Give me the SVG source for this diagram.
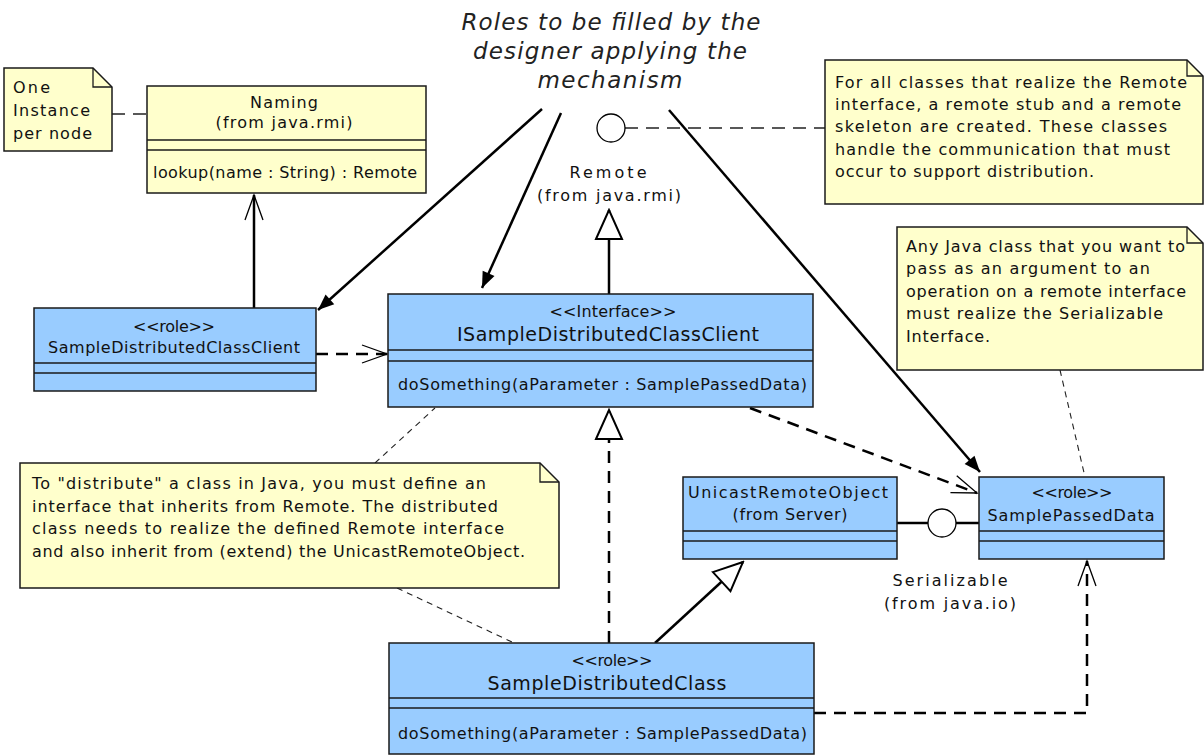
<svg xmlns="http://www.w3.org/2000/svg" width="1204" height="756" viewBox="0 0 1204 756">
  <style>
    .cls { fill: #99ccff; stroke: #1a1a1a; stroke-width: 1.5; }
    .sep { stroke: #1a1a1a; stroke-width: 1.5; }
    .note { fill: #ffffcc; stroke: #1a1a1a; stroke-width: 1.5; }
    .fold { fill: none; stroke: #1a1a1a; stroke-width: 1.3; }
    .t { font-family: "DejaVu Sans", "Liberation Sans", sans-serif; font-size: 16px; fill: #111; }
    .big { font-size: 19px; }
    .mid { text-anchor: middle; }
    .title { font-family: "DejaVu Sans", "Liberation Sans", sans-serif; font-size: 23px; font-style: italic; fill: #222; text-anchor: middle; }
    .solid { fill: none; stroke: #000; stroke-width: 2.5; }
    .dep { fill: none; stroke: #000; stroke-width: 2.5; stroke-dasharray: 12 8; }
    .link { fill: none; stroke: #222; stroke-width: 1.1; stroke-dasharray: 6 5; }
    .link2 { fill: none; stroke: #222; stroke-width: 1.3; stroke-dasharray: 13 8; }
  </style>
  <defs>
    <marker id="open" markerUnits="userSpaceOnUse" viewBox="-30 -15 32 30" markerWidth="32" markerHeight="30" refX="0" refY="0" orient="auto">
      <path d="M-25,-9 L0,0 L-25,9" fill="none" stroke="#000" stroke-width="1.3" stroke-dasharray="none"/>
    </marker>
    <marker id="filled" markerUnits="userSpaceOnUse" viewBox="-20 -10 22 20" markerWidth="22" markerHeight="20" refX="0" refY="0" orient="auto">
      <path d="M-16,-6.5 L0,0 L-16,6.5 Z" fill="#000" stroke="none"/>
    </marker>
    <marker id="tri" markerUnits="userSpaceOnUse" viewBox="-34 -16 36 32" markerWidth="36" markerHeight="32" refX="0" refY="0" orient="auto">
      <path d="M-29,-13 L0,0 L-29,13 Z" fill="#fff" stroke="#000" stroke-width="2" stroke-dasharray="none"/>
    </marker>
  </defs>

  <!-- connectors -->
  <g id="connectors">
    <!-- note links -->
    <line class="link2" x1="112" y1="114" x2="147" y2="114"/>
    <line class="link2" x1="625" y1="128" x2="825" y2="128"/>
    <line class="link" x1="375" y1="463" x2="435" y2="408"/>
    <line class="link" x1="397" y1="588" x2="514" y2="643"/>
    <line class="link" x1="1060" y1="370" x2="1085" y2="477"/>
    <!-- role pointers from the heading -->
    <line class="solid" x1="542" y1="109" x2="318" y2="310" marker-end="url(#filled)"/>
    <line class="solid" x1="561" y1="113" x2="482" y2="288" marker-end="url(#filled)"/>
    <line class="solid" x1="669" y1="110" x2="980" y2="472" marker-end="url(#filled)"/>
    <!-- association client -> Naming -->
    <line class="solid" x1="254" y1="308" x2="254" y2="195" marker-end="url(#open)"/>
    <!-- dependency client -> interface -->
    <line class="dep" x1="316" y1="354" x2="387" y2="354" marker-end="url(#open)"/>
    <!-- interface realizes Remote -->
    <circle cx="611" cy="128" r="14" fill="#fff" stroke="#000" stroke-width="1.3"/>
    <line class="solid" x1="609" y1="294" x2="609" y2="210" marker-end="url(#tri)"/>
    <!-- class realizes interface -->
    <line class="dep" x1="609" y1="643" x2="609" y2="410" marker-end="url(#tri)"/>
    <!-- class extends UnicastRemoteObject -->
    <line class="solid" x1="655" y1="643" x2="743" y2="562" marker-end="url(#tri)"/>
    <!-- interface depends on SamplePassedData -->
    <line class="dep" x1="750" y1="408" x2="977" y2="493" marker-end="url(#open)"/>
    <!-- class depends on SamplePassedData -->
    <path class="dep" d="M814,713 H1087 V561" marker-end="url(#open)"/>
    <!-- Serializable lollipop -->
    <line class="solid" x1="897" y1="523" x2="928" y2="523"/>
    <circle cx="942" cy="523" r="14" fill="#fff" stroke="#000" stroke-width="1.3"/>
    <line class="solid" x1="956" y1="523" x2="979" y2="523"/>
  </g>

  <!-- heading -->
  <g id="heading">
    <text class="title" x="611" y="30" textLength="299">Roles to be filled by the</text>
    <text class="title" x="610" y="59" textLength="274">designer applying the</text>
    <text class="title" x="610" y="88" textLength="145">mechanism</text>
  </g>

  <g id="remote-label">
    <text class="t mid" x="608" y="178" textLength="77">Remote</text>
    <text class="t mid" x="609" y="201" textLength="144">(from java.rmi)</text>
  </g>

  <g id="serializable-label">
    <text class="t mid" x="950" y="586" textLength="115">Serializable</text>
    <text class="t mid" x="950" y="609" textLength="132">(from java.io)</text>
  </g>

  <!-- note: one instance per node -->
  <g id="note-instance">
    <path class="note" d="M4,68 H93 L112,87 V151 H4 Z"/>
    <path class="fold" d="M93,68 V87 H112"/>
    <text class="t" x="13" y="93" textLength="37">One</text>
    <text class="t" x="13" y="116" textLength="77">Instance</text>
    <text class="t" x="13" y="139" textLength="79">per node</text>
  </g>

  <!-- Naming -->
  <g id="naming">
    <rect x="147" y="86" width="279" height="107" fill="#ffffcc" stroke="#1a1a1a" stroke-width="1.5"/>
    <line class="sep" x1="147" y1="140" x2="426" y2="140"/>
    <line class="sep" x1="147" y1="150" x2="426" y2="150"/>
    <text class="t mid" x="284" y="108" textLength="68">Naming</text>
    <text class="t mid" x="284" y="128" textLength="137">(from java.rmi)</text>
    <text class="t" x="153" y="178" textLength="264">lookup(name : String) : Remote</text>
  </g>

  <!-- note: stubs and skeletons -->
  <g id="note-stub">
    <path class="note" d="M825,60 H1187 L1203,76 V204 H825 Z"/>
    <path class="fold" d="M1187,60 V76 H1203"/>
    <text class="t" x="835" y="88" textLength="352">For all classes that realize the Remote</text>
    <text class="t" x="835" y="110" textLength="346">interface, a remote stub and a remote</text>
    <text class="t" x="835" y="132" textLength="332">skeleton are created. These classes</text>
    <text class="t" x="835" y="155" textLength="335">handle the communication that must</text>
    <text class="t" x="835" y="177" textLength="259">occur to support distribution.</text>
  </g>

  <!-- note: serializable arguments -->
  <g id="note-serializable">
    <path class="note" d="M897,227 H1187 L1203,243 V370 H897 Z"/>
    <path class="fold" d="M1187,227 V243 H1203"/>
    <text class="t" x="906" y="252" textLength="279">Any Java class that you want to</text>
    <text class="t" x="906" y="274" textLength="244">pass as an argument to an</text>
    <text class="t" x="906" y="297" textLength="280">operation on a remote interface</text>
    <text class="t" x="906" y="319" textLength="257">must realize the Serializable</text>
    <text class="t" x="906" y="342" textLength="84">Interface.</text>
  </g>

  <!-- SampleDistributedClassClient -->
  <g id="client">
    <rect class="cls" x="34" y="308" width="282" height="83"/>
    <line class="sep" x1="34" y1="363" x2="316" y2="363"/>
    <line class="sep" x1="34" y1="373" x2="316" y2="373"/>
    <text class="t mid" x="174" y="332" textLength="82">&lt;&lt;role&gt;&gt;</text>
    <text class="t" x="48" y="353" textLength="252">SampleDistributedClassClient</text>
  </g>

  <!-- ISampleDistributedClassClient -->
  <g id="interface">
    <rect class="cls" x="388" y="294" width="425" height="113"/>
    <line class="sep" x1="388" y1="350" x2="813" y2="350"/>
    <line class="sep" x1="388" y1="361" x2="813" y2="361"/>
    <text class="t mid" x="613" y="317" textLength="127">&lt;&lt;Interface&gt;&gt;</text>
    <text class="t big" x="457" y="341" textLength="302">ISampleDistributedClassClient</text>
    <text class="t" x="398" y="390" textLength="409">doSomething(aParameter : SamplePassedData)</text>
  </g>

  <!-- note: distributing a class -->
  <g id="note-distribute">
    <path class="note" d="M20,463 H540 L559,482 V588 H20 Z"/>
    <path class="fold" d="M540,463 V482 H559"/>
    <text class="t" x="32" y="489" textLength="454">To "distribute" a class in Java, you must define an</text>
    <text class="t" x="32" y="512" textLength="466">interface that inherits from Remote. The distributed</text>
    <text class="t" x="32" y="534" textLength="472">class needs to realize the defined Remote interface</text>
    <text class="t" x="32" y="557" textLength="493">and also inherit from (extend) the UnicastRemoteObject.</text>
  </g>

  <!-- UnicastRemoteObject -->
  <g id="unicast">
    <rect class="cls" x="683" y="477" width="214" height="82"/>
    <line class="sep" x1="683" y1="531" x2="897" y2="531"/>
    <line class="sep" x1="683" y1="541" x2="897" y2="541"/>
    <text class="t mid" x="788" y="498" textLength="200">UnicastRemoteObject</text>
    <text class="t mid" x="790" y="520" textLength="115">(from Server)</text>
  </g>

  <!-- SamplePassedData -->
  <g id="passed-data">
    <rect class="cls" x="979" y="477" width="185" height="82"/>
    <line class="sep" x1="979" y1="531" x2="1164" y2="531"/>
    <line class="sep" x1="979" y1="541" x2="1164" y2="541"/>
    <text class="t mid" x="1072" y="498" textLength="81">&lt;&lt;role&gt;&gt;</text>
    <text class="t mid" x="1071" y="521" textLength="167">SamplePassedData</text>
  </g>

  <!-- SampleDistributedClass -->
  <g id="distributed-class">
    <rect class="cls" x="389" y="643" width="425" height="111"/>
    <line class="sep" x1="389" y1="698" x2="814" y2="698"/>
    <line class="sep" x1="389" y1="708" x2="814" y2="708"/>
    <text class="t mid" x="612" y="666" textLength="81">&lt;&lt;role&gt;&gt;</text>
    <text class="t big mid" x="607" y="690" textLength="239">SampleDistributedClass</text>
    <text class="t" x="398" y="739" textLength="409">doSomething(aParameter : SamplePassedData)</text>
  </g>
</svg>
